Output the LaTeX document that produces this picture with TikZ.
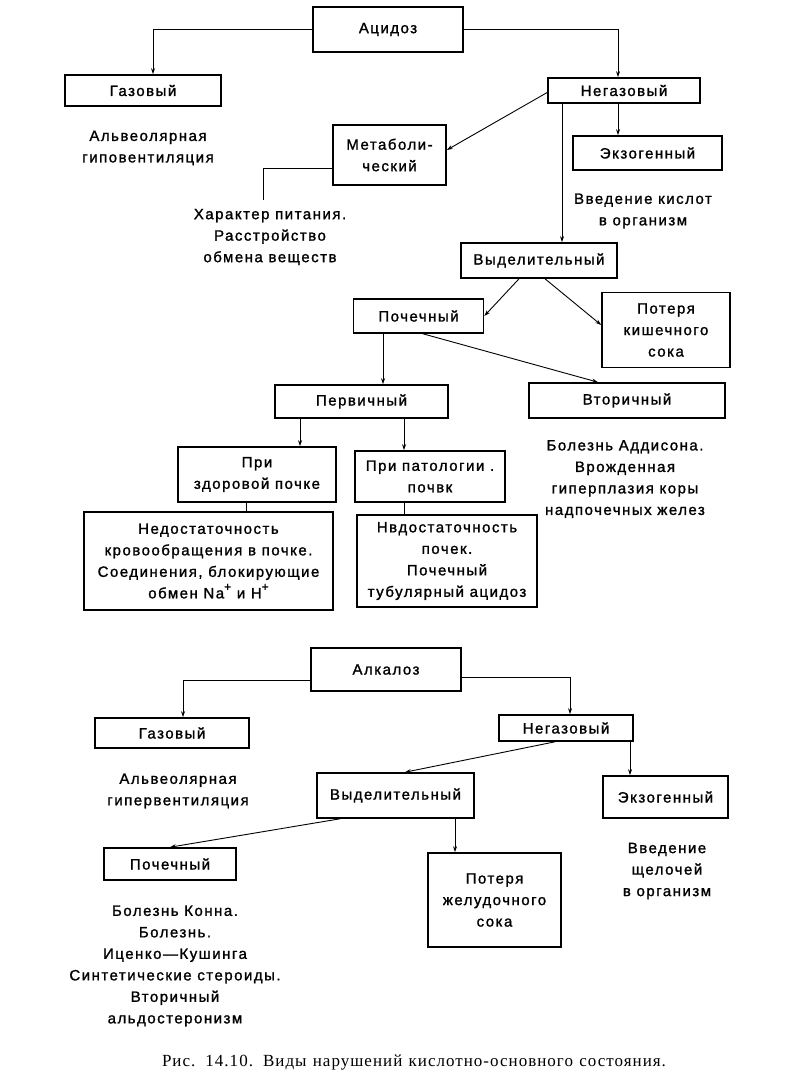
\documentclass[tikz,border=0pt]{standalone}
\usepackage{fontspec}
\setmainfont{Liberation Sans}[LetterSpace=10, FakeBold=1.3]
\newfontfamily\capfont{Liberation Serif}[LetterSpace=6]
\usetikzlibrary{arrows.meta}
\newcommand\diagfs{\fontsize{15}{21.5}\selectfont}
\newcommand\supplus{\raisebox{0.5em}{\fontsize{12}{12}\selectfont+}}
\begin{document}
\begin{tikzpicture}[x=1pt,y=-1pt,
  box/.style={draw, line width=1.6pt, align=center, inner sep=0pt, font=\diagfs},
  txt/.style={align=center, inner sep=0pt, font=\diagfs},
  con/.style={line width=0.9pt},
  arr/.style={con, -{Stealth[length=6pt,width=4pt]}}]
\useasboundingbox[fill=white] (0,0) rectangle (800,1083);
% ---------- Acidosis ----------
\node[box, minimum width=150pt, minimum height=45pt] (acid) at (388,29.5) {Ацидоз};
\node[box, minimum width=156pt, minimum height=31pt] (gasA) at (143,90.5) {Газовый};
\node[box, minimum width=152pt, minimum height=25pt] (negA) at (624,90.5) {Негазовый};
\node[txt] (alvA) at (148,148) {Альвеолярная\\гиповентиляция};
\node[box, minimum width=113pt, minimum height=60pt] (metab) at (389.5,155) {Метаболи-\\ческий};
\node[box, minimum width=149pt, minimum height=34pt] (exoA) at (647.5,153) {Экзогенный};
\node[txt] (hark) at (270,237) {Характер питания.\\Расстройство\\обмена веществ};
\node[txt] (vvedA) at (643,211) {Введение кислот\\в организм};
\node[box, minimum width=156pt, minimum height=35pt] (vydA) at (539,260.5) {Выделительный};
\node[box, minimum width=130pt, minimum height=34pt] (poch) at (418.5,316) {Почечный};
\node[box, minimum width=128pt, minimum height=75pt] (poterA) at (666,330) {Потеря\\кишечного\\сока};
\node[box, minimum width=173pt, minimum height=33pt] (perv) at (361.5,401.5) {Первичный};
\node[box, minimum width=196pt, minimum height=35pt] (vtor) at (627,400.5) {Вторичный};
\node[box, minimum width=158pt, minimum height=55pt] (zdor) at (257,474.5) {При\\здоровой почке};
\node[box, minimum width=150pt, minimum height=51pt] (patol) at (430,476.5) {При патологии .\\почвк};
\node[box, minimum width=249pt, minimum height=98pt] (nedA) at (208.5,561) {Недостаточность\\кровообращения в почке.\\Соединения, блокирующие\\обмен Na\supplus{} и H\supplus};
\node[box, minimum width=180pt, minimum height=92pt] (nedB) at (447,561) {Нвдостаточность\\почек.\\Почечный\\тубулярный ацидоз};
\node[txt] (addis) at (625,479) {Болезнь Аддисона.\\Врожденная\\гиперплазия коры\\надпочечных желез};
\coordinate (hk) at (263,200);
% connectors
\draw[arr] (acid.west) -| ([xshift=10pt]gasA.north);
\draw[arr] (acid.east) -| ([xshift=-6pt]negA.north);
\draw[arr] ([yshift=-2pt]negA.west) -- ([yshift=5pt]metab.east);
\draw[arr] ([xshift=-6pt]negA.south) -- ([xshift=-6pt]negA.south |- exoA.north);
\draw[arr] ([xshift=-62pt]negA.south) -- ([xshift=-62pt]negA.south |- vydA.north);
\draw[con] ([yshift=-13pt]metab.west) -| (hk);
\draw[arr] ([xshift=-20pt]vydA.south) -- (poch.east);
\draw[arr] ([xshift=6pt]vydA.south) -- ([yshift=5pt]poterA.west);
\draw[arr] ([xshift=-35.5pt]poch.south) -- ([xshift=-35.5pt]poch.south |- perv.north);
\draw[arr] ([xshift=4.5pt]poch.south) -- ([xshift=-29pt]vtor.north);
\draw[arr] ([xshift=-61.5pt]perv.south) -- ([xshift=-61.5pt]perv.south |- zdor.north);
\draw[arr] ([xshift=42.5pt]perv.south) -- ([xshift=42.5pt]perv.south |- patol.north);
\draw[con] ([xshift=-11pt]zdor.south) -- ([xshift=-11pt]zdor.south |- nedA.north);
\draw[con] ([xshift=-26pt]patol.south) -- ([xshift=-26pt]patol.south |- nedB.north);
% ---------- Alkalosis ----------
\node[box, minimum width=150pt, minimum height=43pt] (alk) at (386,669.5) {Алкалоз};
\node[box, minimum width=154pt, minimum height=30pt] (gasB) at (172,733) {Газовый};
\node[box, minimum width=134pt, minimum height=26pt] (negB) at (566,728) {Негазовый};
\node[txt] (alvB) at (178,791) {Альвеолярная\\гипервентиляция};
\node[box, minimum width=157pt, minimum height=45pt] (vydB) at (395.5,795.5) {Выделительный};
\node[box, minimum width=125pt, minimum height=42pt] (exoB) at (665.5,797) {Экзогенный};
\node[box, minimum width=132pt, minimum height=32pt] (pochB) at (170,864) {Почечный};
\node[box, minimum width=133pt, minimum height=94pt] (poterB) at (494.5,900) {Потеря\\желудочного\\сока};
\node[txt] (vvedB) at (667,871) {Введение\\щелочей\\в организм};
\node[txt] (konn) at (175,966) {Болезнь Конна.\\Болезнь.\\Иценко—Кушинга\\Синтетические стероиды.\\Вторичный\\альдостеронизм};
\draw[arr] ([yshift=-10.5pt]alk.west) -| ([xshift=11pt]gasB.north);
\draw[arr] ([yshift=-7.5pt]alk.east) -| ([xshift=4pt]negB.north);
\draw[arr] ([xshift=-11pt]negB.south) -- ([xshift=9.5pt]vydB.north);
\draw[arr] ([xshift=64pt]negB.south) -- ([xshift=64pt]negB.south |- exoB.north);
\draw[arr] ([xshift=-55.5pt]vydB.south) -- (pochB.north);
\draw[arr] ([xshift=59.5pt]vydB.south) -- ([xshift=59.5pt]vydB.south |- poterB.north);
% caption
\node[inner sep=0pt, font=\capfont\fontsize{17}{19}\selectfont] (cap) at (414,1063) {\makebox[504pt][s]{Рис. 14.10. Виды нарушений кислотно-основного состояния.}};
\end{tikzpicture}
\end{document}
